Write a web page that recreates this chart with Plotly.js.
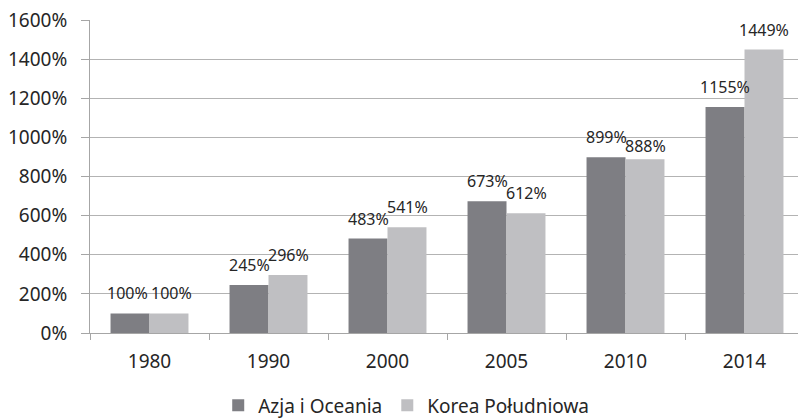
<!DOCTYPE html>
<html>
<head>
<meta charset="utf-8">
<script src="https://cdn.plot.ly/plotly-3.0.1.min.js"></script>
<style>
  html, body { margin: 0; padding: 0; background: #fff; overflow: hidden; }
  #chart { width: 806px; height: 420px; }
</style>
</head>
<body>
<div id="chart"></div>
<script>
// Growth index (1980 = 100%)
const years = ['1980', '1990', '2000', '2005', '2010', '2014'];
const asiaOceania = [100, 245, 483, 673, 899, 1155];
const southKorea = [100, 296, 541, 612, 888, 1449];
const seriesNames = ['Azja i Oceania', 'Korea Południowa'];
const seriesColors = ['#7e7e83', '#bfbfc2'];
const yTicks = [0, 200, 400, 600, 800, 1000, 1200, 1400, 1600];

const FONT = 'Noto Sans, Liberation Sans, sans-serif';
const TEXT = '#262626';
const AXIS = '#a6a6a6';

const series = [asiaOceania, southKorea];

const data = series.map((values, i) => ({
  type: 'bar',
  name: seriesNames[i],
  x: years,
  y: values,
  marker: { color: seriesColors[i], line: { width: 0 } },
  hoverinfo: 'skip'
}));

// value labels above each bar; the two bars of a group sit ~19.5px left/right of the category centre
// (annotation x is the category index on the category axis)
const halfBar = 19.5;
const annotations = [];
series.forEach((values, i) => {
  values.forEach((v, j) => {
    // labels of equal-height bars are pushed apart a little so they do not touch
    const spread = (j === 0) ? 2.5 : 0;
    annotations.push({
      x: j,
      y: v,
      xref: 'x',
      yref: 'y',
      text: v + '%',
      showarrow: false,
      xanchor: 'center',
      yanchor: 'bottom',
      xshift: i === 0 ? -(halfBar + spread) : (halfBar + spread),
      // the 2010 Korea label sits lower so it clears its neighbour
      yshift: (i === 1 && j === 4) ? 0 : 7,
      font: { family: FONT, size: 16, color: TEXT }
    });
  });
});

const layout = {
  width: 806,
  height: 420,
  margin: { l: 90, r: 2, t: 20, b: 87 },
  paper_bgcolor: '#ffffff',
  plot_bgcolor: '#ffffff',
  barmode: 'group',
  bargap: 0.345,
  bargroupgap: 0,
  font: { family: FONT, color: TEXT },
  showlegend: true,
  legend: {
    orientation: 'h',
    xref: 'container',
    x: 0.504,
    xanchor: 'center',
    yref: 'container',
    y: 0.08,
    yanchor: 'top',
    font: { family: FONT, size: 19, color: TEXT },
    itemwidth: 30,
    traceorder: 'normal'
  },
  annotations: annotations,
  xaxis: {
    type: 'category',
    categoryarray: years,
    range: [-0.5, years.length - 0.5],
    tickson: 'boundaries',
    ticks: 'outside',
    ticklen: 6,
    tickcolor: AXIS,
    showline: true,
    linecolor: AXIS,
    linewidth: 1,
    showgrid: false,
    ticklabelstandoff: 11,
    tickfont: { family: FONT, size: 19, color: TEXT },
    fixedrange: true
  },
  yaxis: {
    range: [0, 1600],
    tickvals: yTicks,
    ticktext: yTicks.map(v => v + '%'),
    ticks: 'outside',
    ticklen: 8,
    tickcolor: AXIS,
    showline: true,
    linecolor: AXIS,
    linewidth: 1,
    showgrid: true,
    gridcolor: '#b3b3b3',
    gridwidth: 1,
    zeroline: false,
    ticklabelstandoff: 10,
    tickfont: { family: FONT, size: 19, color: TEXT },
    fixedrange: true
  }
};

Plotly.newPlot('chart', data, layout, { displayModeBar: false, staticPlot: true });
</script>
</body>
</html>
